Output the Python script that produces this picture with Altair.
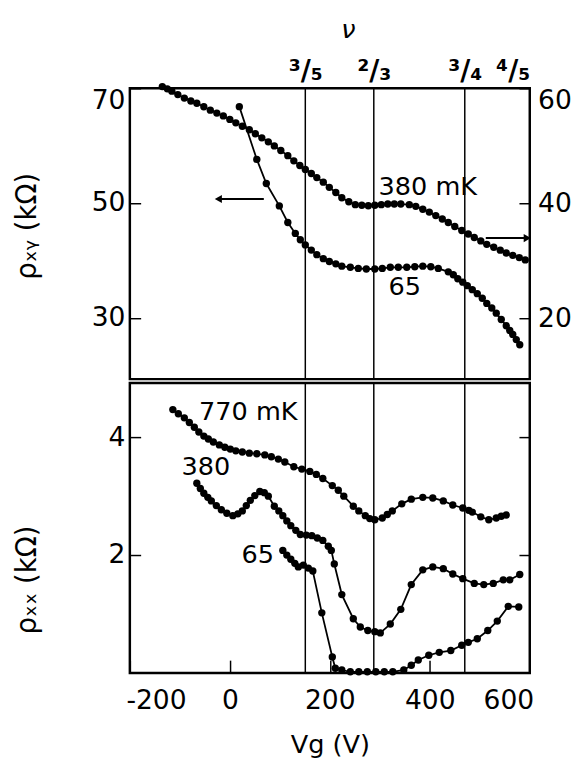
import altair as alt
import pandas as pd

FONT = "DejaVu Sans"

# ---------------- data ----------------
# upper panel, rho_xy, 380 mK (right axis, kOhm)
t380_x = [-135, -125, -116, -104, -91, -78, -66, -52, -39, -26, -13, 0, 12, 25, 39, 51, 64, 77, 89, 102,
          116, 128, 140, 151, 163, 174, 187, 199, 212, 224, 238, 251, 264, 277, 290, 303, 316, 329, 342,
          359, 372, 386, 399, 412, 425, 437, 450, 464, 477, 489, 502, 514, 528, 541, 553, 566, 579, 591]
t380_y = [60.3, 59.9, 59.5, 58.9, 58.3, 57.8, 57.4, 56.8, 56.2, 55.7, 55.2, 54.6, 54.0, 53.4, 52.8, 52.1,
          51.4, 50.7, 50.0, 49.2, 48.3, 47.4, 46.6, 45.9, 45.2, 44.5, 43.7, 42.8, 41.9, 41.0, 40.3, 39.8,
          39.7, 39.6, 39.7, 39.8, 39.9, 39.9, 39.9, 39.8, 39.5, 39.0, 38.5, 37.9, 37.3, 36.7, 36.0, 35.3,
          34.7, 34.1, 33.5, 32.9, 32.4, 31.9, 31.4, 31.0, 30.6, 30.2]

# upper panel, rho_xy, 65 mK (left axis, kOhm)
t65_x = [19, 54, 73, 99, 116, 131, 141, 151, 163, 174, 187, 199, 212, 224, 241, 257, 273, 290, 305,
         321, 337, 354, 370, 386, 402, 417, 437, 447, 456, 466, 475, 485, 495, 505, 514, 524, 533, 543,
         553, 560, 566, 573, 580]
t65_y = [66.8, 57.6, 53.4, 49.5, 46.6, 44.7, 43.6, 42.7, 41.8, 41.0, 40.3, 39.8, 39.4, 39.0, 38.8, 38.6,
         38.5, 38.5, 38.6, 38.8, 38.8, 38.8, 38.9, 39.0, 38.9, 38.6, 38.0, 37.5, 36.8, 36.2, 35.6, 34.9,
         34.2, 33.4, 32.5, 31.7, 30.8, 29.7, 28.6, 27.8, 27.1, 26.2, 25.3]

# lower panel, rho_xx
b770_x = [-114, -103, -91, -81, -71, -62, -52, -43, -33, -21, -10, 1, 12, 25, 39, 54, 70, 83, 97, 110,
          128, 144, 160, 173, 186, 205, 217, 228, 247, 258, 271, 280, 290, 305, 315, 325, 344, 363, 386,
          406, 427, 446, 466, 478, 485, 502, 518, 533, 543, 553]
b770_y = [4.47, 4.40, 4.33, 4.25, 4.17, 4.09, 4.02, 3.97, 3.92, 3.87, 3.83, 3.80, 3.77, 3.75, 3.73, 3.72,
          3.70, 3.67, 3.63, 3.58, 3.50, 3.46, 3.42, 3.37, 3.30, 3.18, 3.10, 3.00, 2.83, 2.75, 2.67, 2.62,
          2.60, 2.63, 2.69, 2.75, 2.87, 2.95, 2.98, 2.97, 2.92, 2.85, 2.80, 2.76, 2.73, 2.65, 2.60, 2.63,
          2.66, 2.68]

b380_x = [-66, -59, -52, -44, -37, -27, -17, -6, 6, 16, 25, 33, 41, 50, 60, 69, 77, 89, 98, 106, 114,
          122, 132, 141, 153, 164, 175, 186, 197, 203, 209, 224, 247, 261, 276, 290, 301, 321, 342, 363,
          386, 406, 427, 446, 466, 489, 508, 527, 547, 560, 580]
b380_y = [3.22, 3.13, 3.05, 2.98, 2.92, 2.84, 2.77, 2.71, 2.67, 2.70, 2.75, 2.84, 2.93, 3.01, 3.08, 3.06,
          3.00, 2.83, 2.75, 2.67, 2.58, 2.50, 2.42, 2.35, 2.34, 2.33, 2.29, 2.25, 2.15, 2.08, 1.85, 1.33,
          0.92, 0.78, 0.72, 0.70, 0.68, 0.83, 1.08, 1.50, 1.75, 1.80, 1.77, 1.68, 1.60, 1.52, 1.50, 1.52,
          1.58, 1.58, 1.67]

b65_x = [106, 114, 122, 130, 137, 147, 157, 166, 184, 205, 211, 224, 241, 258, 275, 292, 309, 326, 348,
         363, 377, 398, 419, 442, 464, 477, 495, 516, 535, 557, 578]
b65_y = [2.08, 2.00, 1.93, 1.86, 1.80, 1.83, 1.78, 1.73, 1.02, 0.27, 0.08, 0.05, 0.02, 0.02, 0.02, 0.02,
         0.02, 0.02, 0.05, 0.13, 0.22, 0.30, 0.35, 0.38, 0.47, 0.52, 0.58, 0.72, 0.88, 1.13, 1.12]

# filling factors on the top axis and their gate voltages
nu_values = [151, 288, 470, 600]
nu_labels = ["³/₅", "²/₃", "³/₄", "⁴/₅"]
nu_lines = [151, 288, 470]

x_ticks = [-200, 0, 200, 400, 600]
xy_left_ticks = [30, 50, 70]
xy_right_ticks = [20, 40, 60]
xx_ticks = [2, 4]

x_domain = [-200, 600]
xy_left_domain = [19.3, 70]
xy_right_domain = [9.5, 60]
xx_domain = [0, 4.92]

top_note_text = ["380 mK", "65"]
top_note_x = [396, 350]
top_note_y = [52.7, 35.4]

bottom_note_text = ["770 mK", "380", "65"]
bottom_note_x = [37, -48, 56]
bottom_note_y = [4.43, 3.5, 2.0]

arrow_tail_x = [68, 512]
arrow_head_x = [-23, 595]
arrow_y = [50.7, 43.9]
arrow_shape = ["triangle-left", "triangle-right"]

# ---------------- tables ----------------
df_t380 = pd.DataFrame({"x": t380_x, "y": t380_y})
df_t65 = pd.DataFrame({"x": t65_x, "y": t65_y})
df_b770 = pd.DataFrame({"x": b770_x, "y": b770_y})
df_b_low = pd.concat([
    pd.DataFrame({"x": b380_x, "y": b380_y, "s": "380"}),
    pd.DataFrame({"x": b65_x, "y": b65_y, "s": "65"}),
])
df_lines = pd.DataFrame({"x": nu_lines})
df_top_notes = pd.DataFrame({"x": top_note_x, "y": top_note_y, "t": top_note_text})
df_bot_notes = pd.DataFrame({"x": bottom_note_x, "y": bottom_note_y, "t": bottom_note_text})
df_arrows = pd.DataFrame({"x": arrow_tail_x, "x2": arrow_head_x, "y": arrow_y})
df_heads = pd.DataFrame({"x": arrow_head_x, "y": arrow_y, "shape": arrow_shape})

label_expr = " : ".join(f"datum.value == {v} ? '{l}'" for v, l in zip(nu_values, nu_labels)) + " : ''"

INK = "black"
xscale = alt.Scale(domain=x_domain, nice=False, zero=False)

x_top = alt.X("x:Q", scale=xscale,
              axis=alt.Axis(orient="top", values=nu_values, labelExpr=label_expr, ticks=False,
                            labelFontSize=28, labelFontWeight="bold", labelPadding=3, labelFlush=True,
                            title="ν", titleFontSize=26, titleFontStyle="italic",
                            titlePadding=16, titleX=222))
x_bot = alt.X("x:Q", scale=xscale,
              axis=alt.Axis(orient="bottom", values=x_ticks, tickSize={"expr": "-13"},
                            labelExpr="'' + datum.value",
                            labelFontSize=27, labelPadding=28, labelFlush=True, labelFlushOffset=4,
                            title="Vg (V)", titleFontSize=26, titlePadding=19))

y_left_xy = alt.Y("y:Q", scale=alt.Scale(domain=xy_left_domain, nice=False, zero=False),
                  axis=alt.Axis(orient="left", values=xy_left_ticks, tickSize={"expr": "-11"},
                                labelFontSize=27, labelPadding=16, labelFlush=True,
                                title="ρₓᵧ (kΩ)", titleFontSize=28, titleX=-90, titleY=140))
y_right_xy = alt.Y("y:Q", scale=alt.Scale(domain=xy_right_domain, nice=False, zero=False),
                   axis=alt.Axis(orient="right", values=xy_right_ticks, tickSize={"expr": "-11"},
                                 labelFontSize=27, labelPadding=19, labelFlush=True, title=None))
y_left_xx = alt.Y("y:Q", scale=alt.Scale(domain=xx_domain, nice=False, zero=False),
                  axis=alt.Axis(orient="left", values=xx_ticks, tickSize={"expr": "-11"},
                                labelFontSize=27, labelPadding=16,
                                title="ρₓₓ (kΩ)", titleFontSize=28, titleX=-90, titleY=200))
y_right_xx = alt.Y("y:Q", scale=alt.Scale(domain=xx_domain, nice=False, zero=False),
                   axis=alt.Axis(orient="right", values=xx_ticks, tickSize={"expr": "-11"},
                                 labels=False, title=None))


def curve(df, x, y, detail=False):
    enc = dict(x=x, y=y)
    if detail:
        enc["detail"] = "s:N"
    line = alt.Chart(df).mark_line(color=INK, strokeWidth=1.8).encode(**enc)
    pts = alt.Chart(df).mark_circle(color=INK, size=56, opacity=1).encode(**enc)
    return line, pts


# ---------------- upper panel ----------------
rules_top = alt.Chart(df_lines).mark_rule(color=INK, strokeWidth=1.5).encode(x=x_top)
l65, p65 = curve(df_t65, x_top, y_left_xy)
l380, p380 = curve(df_t380, x_top, y_right_xy)
notes_top = alt.Chart(df_top_notes).mark_text(font=FONT, fontSize=26, color=INK, align="center",
                                              baseline="middle").encode(x=x_top, y=y_left_xy, text="t:N")
arrow_body = alt.Chart(df_arrows).mark_rule(color=INK, strokeWidth=2).encode(
    x=x_top, x2=alt.X2("x2:Q"), y=y_left_xy)
arrow_head = alt.Chart(df_heads).mark_point(filled=True, size=70, color=INK, opacity=1).encode(
    x=x_top, y=y_left_xy, shape=alt.Shape("shape:N", scale=None))

top_left = alt.layer(l65, p65, notes_top, arrow_body, arrow_head)
top_right = alt.layer(l380, p380)
top = alt.layer(rules_top, top_left, top_right).resolve_scale(y="independent").properties(
    width=407, height=296)

# ---------------- lower panel ----------------
rules_bot = alt.Chart(df_lines).mark_rule(color=INK, strokeWidth=1.5).encode(x=x_bot)
llow, plow = curve(df_b_low, x_bot, y_left_xx, detail=True)
l770, p770 = curve(df_b770, x_bot, y_right_xx)
notes_bot = alt.Chart(df_bot_notes).mark_text(font=FONT, fontSize=26, color=INK, align="center",
                                              baseline="middle").encode(x=x_bot, y=y_left_xx, text="t:N")
bot_left = alt.layer(llow, plow, notes_bot)
bot_right = alt.layer(l770, p770)
bottom = alt.layer(rules_bot, bot_left, bot_right).resolve_scale(y="independent").properties(
    width=407, height=295)

chart = alt.vconcat(top, bottom, spacing=0).properties(
    padding={"left": 4, "top": 0, "right": 0, "bottom": 0}
).configure_view(stroke=INK, strokeWidth=2.5).configure_axis(
    labelFont=FONT, titleFont=FONT, labelColor=INK, titleColor=INK, domain=False, grid=False,
    tickColor=INK, tickWidth=1.5, titleFontWeight="normal"
).configure_concat(spacing=0)

chart.save("out.html", embed_options={"renderer": "svg", "actions": False})
